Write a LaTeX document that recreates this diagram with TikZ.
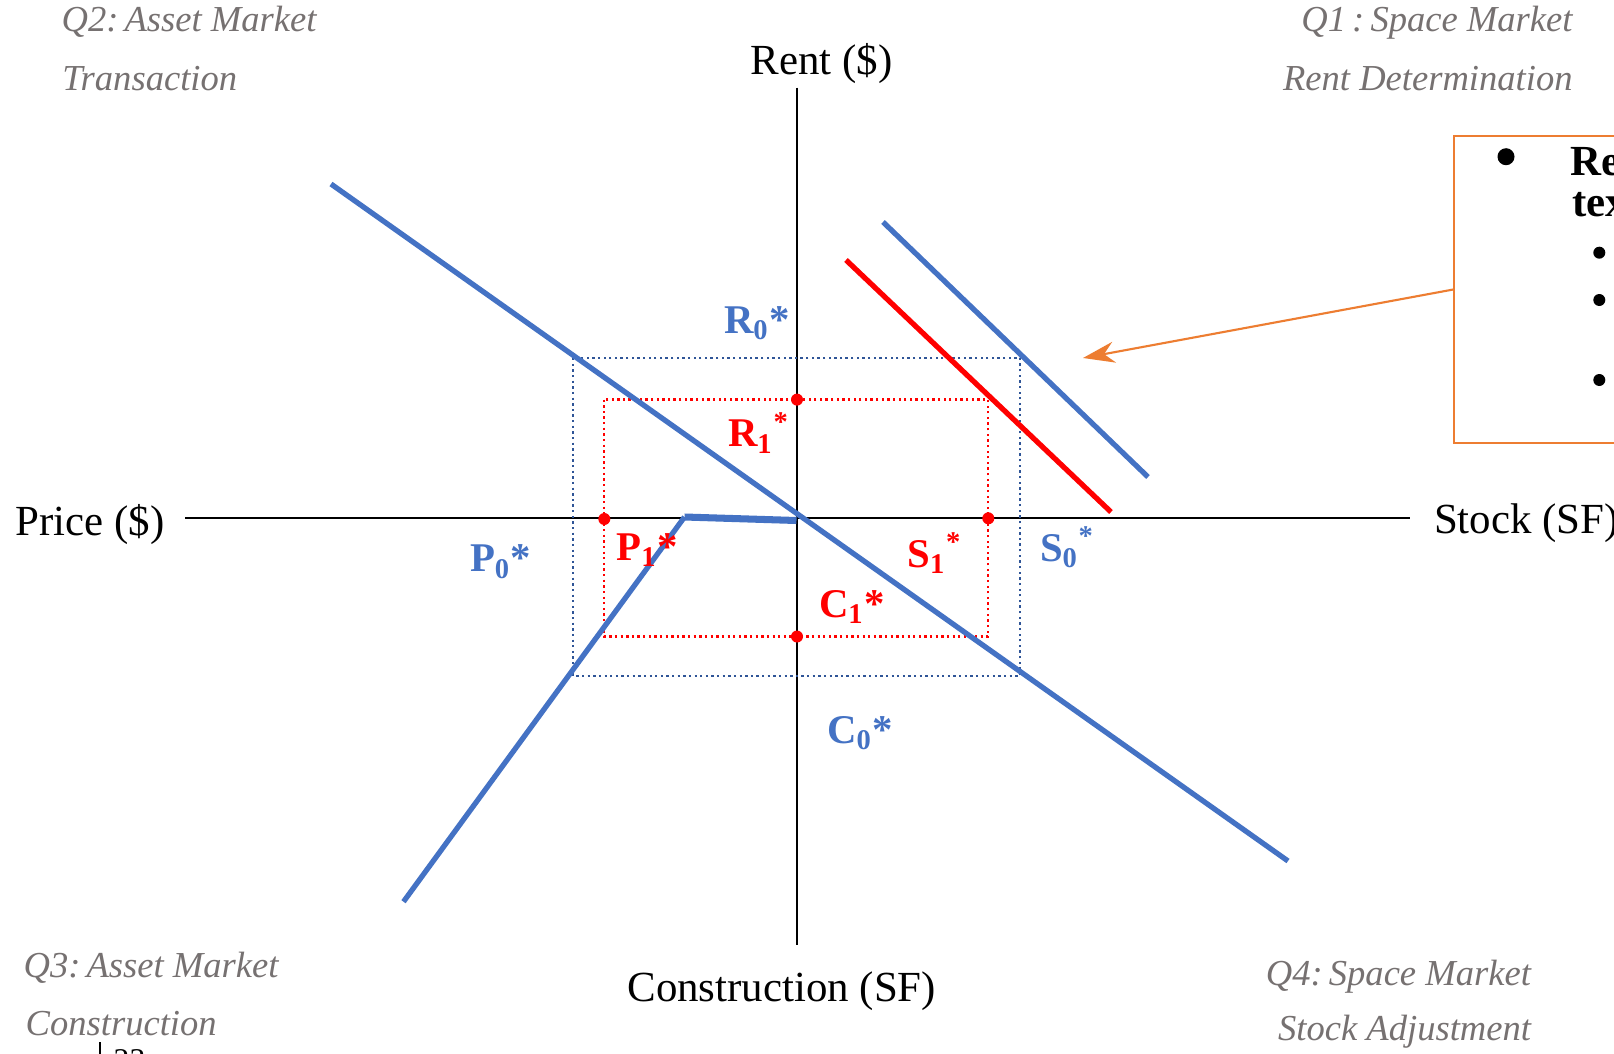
\documentclass[tikz,border=0pt]{standalone}
\usepackage{fontspec}
\setmainfont{Liberation Serif}
\usetikzlibrary{arrows.meta}
\definecolor{cblue}{HTML}{4472C4}
\definecolor{cdblue}{HTML}{2F5597}
\definecolor{cred}{HTML}{FF0000}
\definecolor{corange}{HTML}{ED7D31}
\definecolor{cgray}{HTML}{767171}
\begin{document}
\begin{tikzpicture}[x=0.01cm,y=-0.01cm,
  axis/.style={line width=0.65pt,black},
  curve/.style={line width=1.5pt,cblue},
  redcurve/.style={line width=1.5pt,cred},
  bluedots/.style={line width=0.65pt,cdblue,dash pattern=on 0.65pt off 0.95pt},
  reddots/.style={line width=0.65pt,cred,dash pattern=on 0.65pt off 0.95pt},
  axlabel/.style={inner sep=0pt,anchor=base west,font=\fontsize{12.2}{14}\selectfont},
  qlabel/.style={inner sep=0pt,text=cgray,font=\fontsize{10.4}{12}\selectfont\itshape},
  bl/.style={inner sep=0pt,anchor=base west,text=cblue,font=\fontsize{11.6}{13}\selectfont\bfseries},
  rl/.style={inner sep=0pt,anchor=base west,text=cred,font=\fontsize{11.6}{13}\selectfont\bfseries},
  rdot/.style={circle,fill=cred,inner sep=0pt,minimum size=0.12cm}]
\useasboundingbox (0,0) rectangle (1614,1054);
\fill[white] (0,0) rectangle (1614,1054);

% axes
\coordinate (vtop) at (797,87.5);
\coordinate (vbot) at (797,945);
\coordinate (hleft) at (185,518);
\coordinate (hright) at (1410,518);
\draw[axis] (vtop) -- (vbot);
\draw[axis] (hleft) -- (hright);

% axis labels
\node[axlabel] (rent) at (750,74.3) {Rent (\$)};
\node[axlabel] (price) at (15,535) {Price (\$)};
\node[axlabel] (stock) at (1433.3,533.3) {Stock (SF)};
\node[axlabel] (constr) at (626.7,1001.7) {Construction (SF)};

% quadrant labels
\node[qlabel,anchor=base west] (q2a) at (61,31.7) {Q2:\,Asset Market};
\node[qlabel,anchor=base west] (q2b) at (61.7,90) {Transaction};
\node[qlabel,anchor=base east] (q1a) at (1573.3,31.7) {Q1\,:\,Space Market};
\node[qlabel,anchor=base east] (q1b) at (1573.3,90) {Rent Determination};
\node[qlabel,anchor=base west] (q3a) at (23,977) {Q3:\,Asset Market};
\node[qlabel,anchor=base west] (q3b) at (25,1035) {Construction};
\node[qlabel,anchor=base east] (q4a) at (1531.7,985) {Q4:\,Space Market};
\node[qlabel,anchor=base east] (q4b) at (1531.7,1040) {Stock Adjustment};

% dotted rectangles
\draw[bluedots] (573.3,358.2) rectangle (1020.3,675.8);
\draw[reddots] (604.3,399.6) rectangle (988.3,636.5);

% curves
\coordinate (aTop) at (331,184);
\coordinate (aBot) at (1288,861);
\draw[curve] (aTop) -- (aBot);
\coordinate (cBot) at (403.5,901.7);
\coordinate (cKink) at (684.5,517);
\coordinate (cEnd) at (796.5,520.5);
\draw[curve] (cBot) -- (cKink);
\draw[line width=2pt,cblue] (cKink) -- (cEnd);
\coordinate (sbTop) at (883,222);
\coordinate (sbBot) at (1148,477);
\draw[curve] (sbTop) -- (sbBot);
\coordinate (srTop) at (846,260);
\coordinate (srBot) at (1111,512);
\draw[redcurve] (srTop) -- (srBot);

% red dots
\node[rdot] (dR) at (797,399.6) {};
\node[rdot] (dP) at (604.3,519) {};
\node[rdot] (dS) at (988.3,518.3) {};
\node[rdot] (dC) at (797,636.5) {};

% equilibrium labels
\node[bl] (R0) at (723.3,333.3) {R\textsubscript{0}*};
\node[rl] (R1) at (727.3,446.7) {R\textsubscript{1}\textsuperscript{*}};
\node[bl] (P0) at (469.3,571.7) {P\textsubscript{0}*};
\node[rl] (P1) at (615.7,560) {P\textsubscript{1}*};
\node[rl] (S1) at (906.7,567.3) {S\textsubscript{1}\textsuperscript{*}};
\node[bl] (S0) at (1039.3,561) {S\textsubscript{0}\textsuperscript{*}};
\node[rl] (C1) at (818.3,617) {C\textsubscript{1}*};
\node[bl] (C0) at (826.5,743) {C\textsubscript{0}*};

% note box
\node[draw=corange,line width=0.6pt,anchor=north west,minimum width=4cm,minimum height=3.067cm,inner sep=0pt] (note) at (1453.3,135) {};
\coordinate (tip) at (1083,358);
\draw[corange,line width=0.6pt,-{Stealth[length=9pt,width=6pt]}] (note.west) -- (tip);
\begin{scope}
\clip (0,0) rectangle (1614,1054);
\fill (1506,156.7) circle (0.085cm);
\node[inner sep=0pt,anchor=base west,font=\fontsize{12.2}{14}\selectfont\bfseries] (nt1) at (1570,175) {Re};
\node[inner sep=0pt,anchor=base west,font=\fontsize{12.2}{14}\selectfont\bfseries] (nt2) at (1571.5,216.7) {tex};
\fill (1599.3,252.7) circle (0.06cm);
\fill (1599.3,300) circle (0.06cm);
\fill (1599.3,380) circle (0.06cm);
\draw[line width=0.6pt] (100,1042) -- (100,1060);
\node[inner sep=0pt,anchor=north west,font=\fontsize{9}{10}\selectfont] (pg) at (113,1049) {23};
\end{scope}
\end{tikzpicture}
\end{document}
